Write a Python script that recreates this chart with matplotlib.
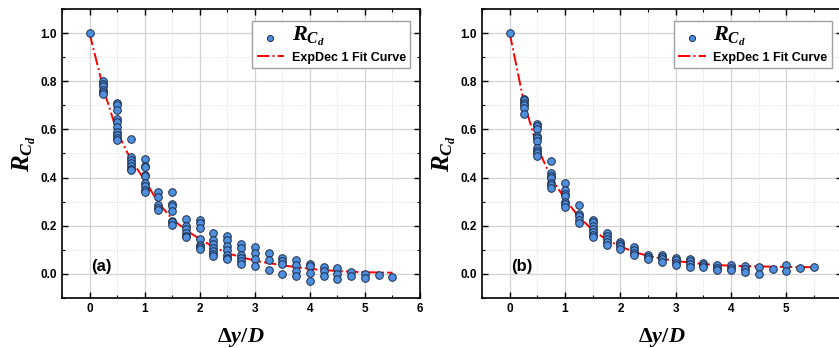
import numpy as np
import matplotlib
matplotlib.use('Agg')
import matplotlib.pyplot as plt
from matplotlib.ticker import MultipleLocator

plt.rcParams['font.family'] = ['Liberation Sans', 'DejaVu Sans']
plt.rcParams['font.weight'] = 'bold'
plt.rcParams['mathtext.fontset'] = 'custom'
plt.rcParams['mathtext.rm'] = 'Liberation Serif:bold'
plt.rcParams['mathtext.it'] = 'Liberation Serif:italic:bold'
plt.rcParams['mathtext.bf'] = 'Liberation Serif:bold'

# scatter data, grouped by dy/D
x_steps = [0, 0.25, 0.5, 0.75, 1, 1.25, 1.5, 1.75, 2, 2.25, 2.5, 2.75,
           3, 3.25, 3.5, 3.75, 4, 4.25, 4.5, 4.75, 5, 5.25, 5.5]

rcd_a = [
    [1.0],
    [0.80, 0.79, 0.78, 0.765, 0.755, 0.745],
    [0.71, 0.70, 0.68, 0.645, 0.63, 0.61, 0.59, 0.577, 0.565, 0.557],
    [0.56, 0.485, 0.475, 0.46, 0.447, 0.437, 0.43],
    [0.477, 0.45, 0.444, 0.41, 0.405, 0.378, 0.364, 0.35, 0.34],
    [0.34, 0.318, 0.285, 0.275, 0.265],
    [0.34, 0.292, 0.28, 0.26, 0.221, 0.214, 0.205],
    [0.23, 0.20, 0.187, 0.17, 0.158, 0.152],
    [0.225, 0.213, 0.192, 0.145, 0.122, 0.112, 0.105],
    [0.17, 0.14, 0.126, 0.108, 0.094, 0.084, 0.075],
    [0.156, 0.142, 0.115, 0.10, 0.08, 0.066, 0.06],
    [0.125, 0.107, 0.08, 0.066, 0.055, 0.043],
    [0.11, 0.087, 0.062, 0.032],
    [0.087, 0.057, 0.018],
    [0.065, 0.052, 0.043, 0.0],
    [0.057, 0.036, 0.011, -0.01],
    [0.043, 0.032, 0.004, -0.028],
    [0.029, 0.011, -0.01],
    [0.025, 0.0, -0.02],
    [0.008, -0.01],
    [0.0, -0.017],
    [-0.003],
    [-0.012],
]

rcd_b = [
    [1.0],
    [0.725, 0.72, 0.71, 0.70, 0.69, 0.665],
    [0.624, 0.615, 0.60, 0.571, 0.564, 0.55, 0.523, 0.509, 0.50, 0.488],
    [0.467, 0.42, 0.408, 0.40, 0.378, 0.368, 0.357],
    [0.376, 0.35, 0.33, 0.322, 0.30, 0.292, 0.278],
    [0.288, 0.25, 0.24, 0.225, 0.212],
    [0.225, 0.214, 0.20, 0.187, 0.173, 0.163, 0.154],
    [0.17, 0.156, 0.145, 0.131, 0.122],
    [0.131, 0.124, 0.115, 0.104],
    [0.112, 0.10, 0.087, 0.08],
    [0.08, 0.07, 0.062],
    [0.08, 0.07, 0.06, 0.048],
    [0.066, 0.057, 0.046, 0.038],
    [0.062, 0.053, 0.04, 0.027],
    [0.046, 0.036, 0.027],
    [0.036, 0.025, 0.018],
    [0.038, 0.025, 0.018],
    [0.032, 0.02, 0.008],
    [0.029, 0.0],
    [0.02],
    [0.036, 0.014],
    [0.025],
    [0.028],
]

# fit curve values read at each x step
fit_a = [1.0, 0.77, 0.59, 0.475, 0.39, 0.295, 0.228, 0.182, 0.145, 0.112, 0.086,
         0.07, 0.055, 0.045, 0.036, 0.028, 0.021, 0.016, 0.012, 0.009, 0.007, 0.006, 0.005]
fit_b = [1.0, 0.72, 0.525, 0.40, 0.31, 0.237, 0.182, 0.142, 0.114, 0.091, 0.075,
         0.063, 0.054, 0.047, 0.041, 0.037, 0.034, 0.032, 0.031, 0.03, 0.029, 0.028, 0.028]

x_ticks_a = [0, 1, 2, 3, 4, 5, 6]
x_ticks_b = [0, 1, 2, 3, 4, 5]

panels = [('(a)', rcd_a, fit_a, x_ticks_a), ('(b)', rcd_b, fit_b, x_ticks_b)]

fig = plt.figure(figsize=(8.39, 3.48), dpi=100)
positions = [[0.0739, 0.1437, 0.4267, 0.8305], [0.5745, 0.1437, 0.4288, 0.8305]]

for pos, (tag, groups, fit, xt) in zip(positions, panels):
    ax = fig.add_axes(pos)
    xs = np.concatenate([[x] * len(g) for x, g in zip(x_steps, groups)])
    ys = np.concatenate(groups)

    ax.grid(True, which='major', color='#d2d2d2', linewidth=0.9, zorder=0)
    ax.grid(True, which='minor', color='#dcdcdc', linewidth=0.7, linestyle=':', zorder=0)

    ax.plot(x_steps, fit, color='red', linestyle='-.', linewidth=1.4, zorder=3,
            label='ExpDec 1 Fit Curve')
    ax.scatter(xs, ys, s=30, facecolor='#4f8fe0', edgecolor='#1c2b45', linewidth=0.7,
               zorder=4, label=r'$R_{C_d}$')

    ax.set_xlim(-0.5, 6)
    ax.set_ylim(-0.1, 1.1)
    ax.xaxis.set_minor_locator(MultipleLocator(0.5))
    ax.yaxis.set_minor_locator(MultipleLocator(0.1))
    ax.set_xticks(xt)
    ax.set_xticklabels([str(v) for v in xt])
    ax.set_yticks([0, 0.2, 0.4, 0.6, 0.8, 1.0])
    ax.set_yticklabels(['0.0', '0.2', '0.4', '0.6', '0.8', '1.0'])
    ax.tick_params(which='both', direction='in', top=True, right=True, labelsize=8.5)
    ax.tick_params(which='major', length=4, width=1)
    ax.tick_params(which='minor', length=2.5, width=0.8)
    for sp in ax.spines.values():
        sp.set_linewidth(1.2)

    ax.set_xlabel(r'$\Delta y/D$', fontsize=16, labelpad=8)
    ax.set_ylabel(r'$R_{C_d}$', fontsize=18, labelpad=2)
    ax.text(0.111, 0.108, tag, transform=ax.transAxes, fontsize=12,
            fontweight='bold', ha='center', va='center')

    handles, labels = ax.get_legend_handles_labels()
    leg = ax.legend(handles[::-1], labels[::-1], loc='upper right',
                    bbox_to_anchor=(0.99, 0.98), fancybox=False,
                    edgecolor='#a0a0a0', framealpha=1, fontsize=9,
                    handlelength=2.2, handletextpad=0.6, borderpad=0.35,
                    labelspacing=0.25, markerscale=0.8)
    leg.get_frame().set_linewidth(1.0)
    leg.get_texts()[0].set_fontsize(16)

fig.savefig('out.png', dpi=100)
